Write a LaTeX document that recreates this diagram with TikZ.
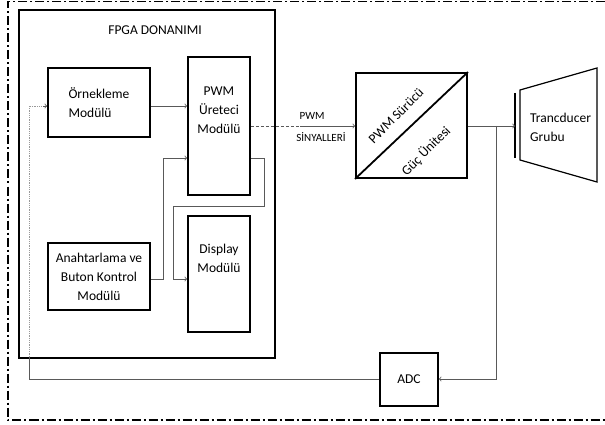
\documentclass[tikz,border=0pt]{standalone}
\usepackage{fontspec}
\setmainfont{Carlito}
\usetikzlibrary{calc}

\begin{document}
\begin{tikzpicture}[
    x=1pt, y=-1pt,
    modbox/.style={rectangle, draw=black, line width=1.8pt, inner sep=0pt, align=center, font=\fontsize{13.5}{19}\selectfont},
    plaintext/.style={inner sep=0pt, align=left, font=\fontsize{13.5}{19}\selectfont},
    wire/.style={draw=black!65, line width=0.8pt},
]
    \useasboundingbox (0,0) rectangle (605,425);

    % outer frame (open on the right)
    \draw [line width=1.1pt, dash pattern=on 9pt off 3pt on 2pt off 3pt] (605,1.5) -- (8,1.5) -- (8,420) -- (605,420) ;

    % FPGA frame
    \node at (147, 184) [modbox, minimum width=256, minimum height=348](fpgaBox){};
    \node at (155, 30) [plaintext](fpgaText){FPGA DONANIMI};

    % modules inside the FPGA
    \node at (99, 102.5) [modbox, align=left, minimum width=102, minimum height=69](ornekBox){\"Ornekleme\\Mod\"ul\"u};
    \node at (219, 126) [modbox, minimum width=62, minimum height=138](pwmBox){PWM\\\"Ureteci\\Mod\"ul\"u\\[12pt]};
    \node at (99, 276.5) [modbox, minimum width=102, minimum height=67](butonBox){Anahtarlama ve\\Buton Kontrol\\Mod\"ul\"u\hspace{10pt}};
    \node at (219, 274) [modbox, minimum width=62, minimum height=116](displayBox){Display\\Mod\"ul\"u\\[12pt]};

    % power stage, ADC and transducer
    \node at (411.5, 125.5) [modbox, minimum width=111, minimum height=105](driverBox){};
    \draw [line width=1.8pt] (driverBox.south west) -- (driverBox.north east) ;
    \node at (396, 116) [plaintext, rotate=45](driverTop){PWM S\"ur\"uc\"u};
    \node at (426, 151) [plaintext, rotate=45](driverBottom){G\"u\c{c} \"Unitesi};
    \node at (409, 379.5) [modbox, minimum width=58, minimum height=53](adcBox){ADC};

    \draw [line width=1.8pt] (515, 93) -- (515, 158) ;
    \coordinate (plate) at (515, 126) ;
    \draw [line width=1.2pt] (520, 90) -- (597, 68) -- (597, 182) -- (520, 160) -- cycle ;
    \node at (530, 127) [plaintext, anchor=west](transText){Trancducer\\Grubu};

    % PWM signal label
    \node at (312, 116) [plaintext, font=\fontsize{11}{13}\selectfont](sigTop){PWM};
    \node at (321, 137) [plaintext, font=\fontsize{11}{13}\selectfont](sigBottom){S\.INYALLER\.I};

    % straight connectors
    \draw [wire, ->] (ornekBox.east |- 0,106) -- (pwmBox.west |- 0,106) ;
    \draw [wire, ->] (driverBox.east |- plate) -- (plate) ;

    % PWM output: dotted, then solid
    \coordinate (sigBreak) at (300, 126) ;
    \draw [wire, densely dashed] (pwmBox.east |- sigBreak) -- (sigBreak) ;
    \draw [wire, ->] (sigBreak) -- (driverBox.west |- sigBreak) ;

    % buttons to PWM and display
    \draw [wire, ->] (butonBox.east |- 0,279) -| (163, 158) -- (pwmBox.west |- 0,158) ;
    \draw [wire, ->] (pwmBox.east |- 0,158) -| (264, 206) -| (173, 279) -- (displayBox.west |- 0,279) ;

    % feedback through the ADC
    \coordinate (tap) at (496, 126) ;
    \draw [wire, ->] (tap) |- (adcBox.east |- 0,379) ;
    \coordinate (fbCorner) at (29, 357) ;
    \draw [wire] (adcBox.west |- 0,379) -| (fbCorner) ;
    \draw [wire, draw=black!40, densely dotted] (fbCorner) |- (ornekBox.west |- 0,106) ;
    \draw [wire, ->] ($(ornekBox.west |- 0,106)+(-4,0)$) -- (ornekBox.west |- 0,106) ;
\end{tikzpicture}
\end{document}
